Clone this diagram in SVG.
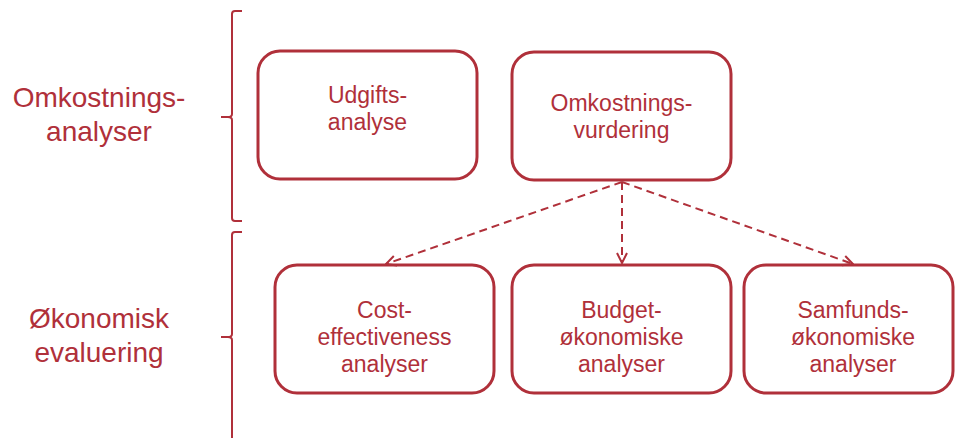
<svg xmlns="http://www.w3.org/2000/svg" width="955" height="438" viewBox="0 0 955 438">
<style>
.box{fill:#fff;stroke:#B0303A;stroke-width:3}
.t{font-family:"Liberation Sans",Arial,sans-serif;fill:#B0303A;text-anchor:middle}
.bt{font-size:23px}
.lt{font-size:28px}
.br{fill:none;stroke:#B0303A;stroke-width:2}
.ar{fill:none;stroke:#B0303A;stroke-width:2;stroke-dasharray:8 5}
</style>
<defs>
<marker id="ah" viewBox="0 0 12 12" refX="11" refY="6" markerWidth="12" markerHeight="12" markerUnits="userSpaceOnUse" orient="auto">
<path d="M1,1 L11,6 L1,11" fill="none" stroke="#B0303A" stroke-width="2"/>
</marker>
</defs>
<g id="label-omk">
<text class="t lt" x="99" y="107">Omkostnings-</text>
<text class="t lt" x="99" y="141">analyser</text>
</g>
<g id="label-oko">
<text class="t lt" x="99" y="328">Økonomisk</text>
<text class="t lt" x="99" y="362">evaluering</text>
</g>
<g id="brace1">
<path class="br" d="M242,11 L235,11 Q232,11 232,14 L232,114 Q232,117 228,117 L221,117 M228,117 Q232,117 232,120 L232,218 Q232,221 235,221 L242,221"/>
</g>
<g id="brace2">
<path class="br" d="M242,232 L235,232 Q232,232 232,235 L232,334 Q232,337 228,337 L221,337 M228,337 Q232,337 232,340 L232,440"/>
</g>
<g id="udgifts">
<rect class="box" x="258" y="51" width="219" height="128" rx="22"/>
<text class="t bt" x="367.5" y="103">Udgifts-</text>
<text class="t bt" x="367.5" y="130">analyse</text>
</g>
<g id="omkostningsvurdering">
<rect class="box" x="512" y="52" width="219" height="128" rx="22"/>
<text class="t bt" x="621.5" y="111">Omkostnings-</text>
<text class="t bt" x="621.5" y="138">vurdering</text>
</g>
<g id="cost">
<rect class="box" x="275" y="265" width="219" height="128" rx="22"/>
<text class="t bt" x="384.5" y="318">Cost-</text>
<text class="t bt" x="384.5" y="345">effectiveness</text>
<text class="t bt" x="384.5" y="372">analyser</text>
</g>
<g id="budget">
<rect class="box" x="512" y="265" width="219" height="128" rx="22"/>
<text class="t bt" x="621.5" y="318">Budget-</text>
<text class="t bt" x="621.5" y="345">økonomiske</text>
<text class="t bt" x="621.5" y="372">analyser</text>
</g>
<g id="samfunds">
<rect class="box" x="744" y="265" width="209" height="128" rx="22"/>
<text class="t bt" x="853" y="318">Samfunds-</text>
<text class="t bt" x="853" y="345">økonomiske</text>
<text class="t bt" x="853" y="372">analyser</text>
</g>
<g id="connectors">
<line class="ar" x1="622" y1="182" x2="386" y2="264" marker-end="url(#ah)"/>
<line class="ar" x1="622" y1="182" x2="622" y2="263" marker-end="url(#ah)"/>
<line class="ar" x1="622" y1="182" x2="853" y2="264" marker-end="url(#ah)"/>
</g>
</svg>
